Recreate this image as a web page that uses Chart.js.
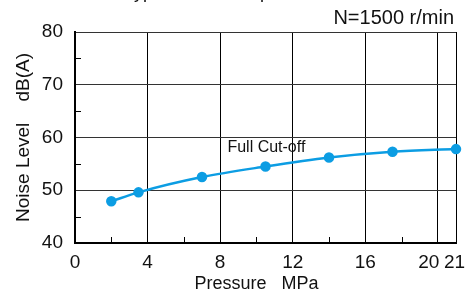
<!DOCTYPE html>
<html><head><meta charset="utf-8">
<script src="https://cdn.jsdelivr.net/npm/chart.js@4.4.1/dist/chart.umd.min.js"></script>
<style>html,body{margin:0;padding:0;background:#fff}#w{width:474px;height:295px;position:relative}</style>
</head><body><div id="w"><canvas id="c"></canvas></div>
<script>
const pressure = [2, 3.5, 7, 10.5, 14, 17.5, 21];
const noiseLevel = [47.9, 49.6, 52.5, 54.5, 56.2, 57.3, 57.8];
const xTickValues = [0, 4, 8, 12, 16, 20, 21];
const xMinorTicks = [2, 6, 10, 14, 18];
const yTickValues = [40, 50, 60, 70, 80];
const yMinorTicks = [45, 55, 65, 75];
const seriesLabel = 'Full Cut-off';
const speedNote = 'N=1500 r/min';
const topTitle = 'PV-type Piston Pump Noise Characteristics';
const xTitle = 'Pressure   MPa';
const yTitle = 'Noise Level    dB(A)';

const FONT = "'Liberation Sans', Arial, sans-serif";
const BLUE = '#0c9de3';
const TXT = '#111';

const extras = {
  id: 'extras',
  afterDraw(chart) {
    const ctx = chart.ctx, xs = chart.scales.x, ys = chart.scales.y;
    ctx.save();
    ctx.strokeStyle = '#000'; ctx.lineWidth = 1;
    const b = ys.getPixelForValue(40), l = xs.getPixelForValue(0);
    xMinorTicks.forEach(v => { const x = Math.round(xs.getPixelForValue(v)) + 0.5; ctx.beginPath(); ctx.moveTo(x, b); ctx.lineTo(x, b - 6); ctx.stroke(); });
    yMinorTicks.forEach(v => { const y = Math.round(ys.getPixelForValue(v)) + 0.5; ctx.beginPath(); ctx.moveTo(l, y); ctx.lineTo(l + 6, y); ctx.stroke(); });
    ctx.fillStyle = TXT;
    ctx.font = '19px ' + FONT; ctx.textAlign = 'center'; ctx.textBaseline = 'middle';
    const nudge = { 20: -9, 21: -1.5 };
    xTickValues.forEach(v => ctx.fillText(String(v), xs.getPixelForValue(v) + (nudge[v] || 0), b + 20));
    ctx.font = '18px ' + FONT;
    ctx.fillText(xTitle, xs.getPixelForValue(10), 284);
    ctx.font = '16px ' + FONT; ctx.textAlign = 'left';
    ctx.fillText(seriesLabel, xs.getPixelForValue(8.4), ys.getPixelForValue(58.0));
    ctx.font = '20px ' + FONT; ctx.textAlign = 'right';
    ctx.fillText(speedNote, 454, 18);
    ctx.font = '18px ' + FONT; ctx.textAlign = 'left'; ctx.textBaseline = 'alphabetic';
    ctx.fillText(topTitle, 100, -2);
    ctx.restore();
  }
};

new Chart(document.getElementById('c'), {
  type: 'scatter',
  data: { datasets: [{
    label: seriesLabel,
    data: pressure.map((p, i) => ({ x: p, y: noiseLevel[i] })),
    showLine: true, borderColor: BLUE, backgroundColor: BLUE,
    borderWidth: 2.5, pointRadius: 4, pointHoverRadius: 4,
    tension: 0.4, cubicInterpolationMode: 'monotone', clip: false
  }]},
  plugins: [extras],
  options: {
    responsive: true, maintainAspectRatio: false, animation: false,
    events: [],
    layout: { padding: { top: 32, right: 18, left: 0, bottom: 0 } },
    plugins: { legend: { display: false }, tooltip: { enabled: false } },
    scales: {
      x: {
        type: 'linear', min: 0, max: 21,
        afterBuildTicks: s => { s.ticks = xTickValues.map(v => ({ value: v })); },
        afterFit: s => { s.height = 52; },
        ticks: { display: false },
        grid: { color: '#000', lineWidth: 1, drawTicks: false },
        border: { color: '#000', width: 2 },
        title: { display: false }
      },
      y: {
        type: 'linear', min: 40, max: 80,
        afterBuildTicks: s => { s.ticks = yTickValues.map(v => ({ value: v })); },
        afterFit: s => { s.width = 75; },
        ticks: { color: TXT, padding: 12, font: { family: FONT, size: 19 } },
        grid: { color: '#333', lineWidth: 1, drawTicks: false },
        border: { color: '#000', width: 2 },
        title: { display: true, text: yTitle, color: TXT, font: { family: FONT, size: 19 }, padding: { top: 12, bottom: 0 } }
      }
    }
  }
});
</script></body></html>
